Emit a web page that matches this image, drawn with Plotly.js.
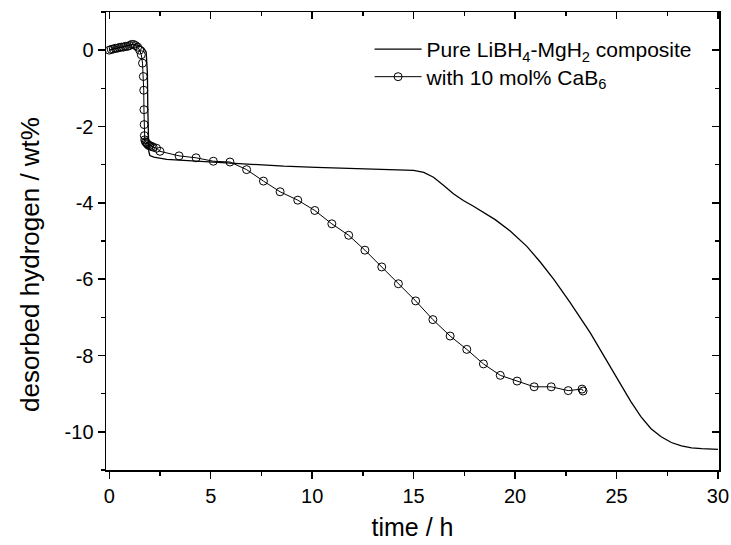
<!DOCTYPE html>
<html>
<head>
<meta charset="utf-8">
<script src="https://cdn.plot.ly/plotly-3.0.1.min.js"></script>
<style>html,body{margin:0;padding:0;background:#fff;}#chart{width:731px;height:545px;}</style>
</head>
<body>
<div id="chart"></div>
<script>
// Pure LiBH4-MgH2 composite
const pureTime = [0, 0.3, 0.6, 0.9, 1.2, 1.5, 1.7, 1.82, 1.88, 1.9, 1.92, 1.95, 2.0, 2.2, 2.83, 3.5, 4.47, 5.5, 6.45, 7.5, 8.6, 10.2, 11.8, 13.0, 14.33, 15.0, 15.5, 15.98, 16.5, 16.96, 17.45, 17.95, 19.02, 19.76, 20.58, 21.24, 21.9, 22.7, 23.7, 24.6, 25.2, 25.7, 26.2, 26.7, 27.2, 27.7, 28.2, 28.7, 29.2, 29.6, 30.0];
const pureH = [0, 0.03, 0.08, 0.12, 0.15, 0.12, 0.05, -0.05, -0.6, -1.5, -2.3, -2.65, -2.76, -2.8, -2.86, -2.88, -2.91, -2.95, -2.98, -3.01, -3.04, -3.07, -3.1, -3.11, -3.13, -3.15, -3.2, -3.33, -3.55, -3.76, -3.94, -4.09, -4.44, -4.74, -5.14, -5.55, -6.0, -6.6, -7.4, -8.2, -8.75, -9.2, -9.6, -9.92, -10.13, -10.28, -10.37, -10.42, -10.44, -10.45, -10.46];

// with 10 mol% CaB6
const cabTime = [0, 0.1, 0.2, 0.3, 0.4, 0.5, 0.6, 0.7, 0.8, 0.9, 1.0, 1.1, 1.2, 1.3, 1.4, 1.5, 1.58, 1.64, 1.68, 1.7, 1.71, 1.72, 1.73, 1.75, 1.78, 1.82, 1.86, 1.9, 1.95, 2.0, 2.08, 2.16, 2.33, 2.5, 3.44, 4.28, 5.13, 5.95, 6.77, 7.6, 8.42, 9.29, 10.13, 10.97, 11.8, 12.6, 13.43, 14.25, 15.1, 15.95, 16.8, 17.62, 18.44, 19.27, 20.1, 20.94, 21.78, 22.62, 23.3, 23.35];
const cabH = [0.0, 0.02, 0.03, 0.05, 0.05, 0.07, 0.08, 0.08, 0.1, 0.1, 0.12, 0.15, 0.15, 0.12, 0.08, 0.0, -0.12, -0.34, -0.69, -1.05, -1.56, -1.95, -2.24, -2.35, -2.4, -2.42, -2.45, -2.47, -2.5, -2.5, -2.52, -2.54, -2.57, -2.65, -2.77, -2.82, -2.91, -2.93, -3.13, -3.43, -3.71, -3.93, -4.2, -4.55, -4.85, -5.24, -5.68, -6.12, -6.57, -7.06, -7.49, -7.84, -8.22, -8.52, -8.67, -8.82, -8.82, -8.92, -8.88, -8.93];

const seriesNames = ['Pure LiBH<sub>4</sub>-MgH<sub>2</sub> composite', 'with 10 mol% CaB<sub>6</sub>'];
const xTickVals = [0, 5, 10, 15, 20, 25, 30];
const xTickText = ['0', '5', '10', '15', '20', '25', '30'];
const yTickVals = [0, -2, -4, -6, -8, -10];
const yTickText = ['0', '-2', '-4', '-6', '-8', '-10'];
const xTitle = 'time / h';
const yTitle = 'desorbed hydrogen / wt%';

const xRange = [-0.16, 30.05];
const yRange = [-11, 1];

const traces = [
  {x: pureTime, y: pureH, name: seriesNames[0], type: 'scatter', mode: 'lines', legend: 'legend',
   line: {color: '#000', width: 1.3}},
  {x: cabTime, y: cabH, name: seriesNames[1], type: 'scatter', mode: 'lines+markers', legend: 'legend2',
   line: {color: '#000', width: 1},
   marker: {symbol: 'circle-open', size: 8, color: '#000', line: {width: 1, color: '#000'}}},
  // empty traces so the mirrored frame axes (top/right) are drawn
  {x: [], y: [], xaxis: 'x2', yaxis: 'y', type: 'scatter', mode: 'lines', showlegend: false, hoverinfo: 'skip'},
  {x: [], y: [], xaxis: 'x', yaxis: 'y2', type: 'scatter', mode: 'lines', showlegend: false, hoverinfo: 'skip'}
];

const fontFam = 'Liberation Sans, Arial, sans-serif';
const axBase = {showgrid: false, zeroline: false, showline: true, linecolor: '#000', linewidth: 1.5,
  tickcolor: '#000', tickwidth: 1.5, fixedrange: true};
const legBase = {xanchor: 'left', yanchor: 'middle', bgcolor: 'rgba(0,0,0,0)',
  font: {size: 21, family: fontFam}, itemwidth: 47};

const layout = {
  width: 731, height: 545,
  margin: {l: 106, r: 12, t: 12, b: 75},
  paper_bgcolor: '#fff', plot_bgcolor: '#fff',
  font: {family: fontFam, color: '#000', size: 20},
  showlegend: true,
  legend: Object.assign({}, legBase, {x: 0.43, y: 0.918}),
  legend2: Object.assign({}, legBase, {x: 0.43, y: 0.858}),
  xaxis: Object.assign({}, axBase, {range: xRange, tickvals: xTickVals, ticktext: xTickText, ticks: 'outside', ticklen: 7,
    minor: {dtick: 2.5, tick0: 0, ticks: 'outside', ticklen: 4, tickcolor: '#000', tickwidth: 1.5},
    tickfont: {size: 20}, title: {text: xTitle, font: {size: 25}, standoff: 13}}),
  yaxis: Object.assign({}, axBase, {range: yRange, tickvals: yTickVals, ticktext: yTickText, ticks: 'outside', ticklen: 7,
    minor: {dtick: 1, tick0: 0, ticks: 'outside', ticklen: 4, tickcolor: '#000', tickwidth: 1.5}},
    {tickfont: {size: 20}}),
  xaxis2: Object.assign({}, axBase, {range: xRange, overlaying: 'x', side: 'top', anchor: 'y',
    tickvals: xTickVals, ticks: 'inside', ticklen: 7, showticklabels: false,
    minor: {dtick: 2.5, tick0: 0, ticks: 'inside', ticklen: 4, tickcolor: '#000', tickwidth: 1.5}}),
  yaxis2: Object.assign({}, axBase, {range: yRange, overlaying: 'y', side: 'right', anchor: 'x',
    tickvals: yTickVals, ticks: 'inside', ticklen: 7, showticklabels: false,
    minor: {dtick: 1, tick0: 0, ticks: 'inside', ticklen: 4, tickcolor: '#000', tickwidth: 1.5}}),
  annotations: [
    {text: yTitle, xref: 'paper', yref: 'paper', x: -0.124, y: 0.45, xanchor: 'center', yanchor: 'middle',
     textangle: -90, showarrow: false, font: {size: 26, family: fontFam, color: '#000'}}
  ]
};

Plotly.newPlot('chart', traces, layout, {displayModeBar: false, staticPlot: true});
</script>
</body>
</html>
